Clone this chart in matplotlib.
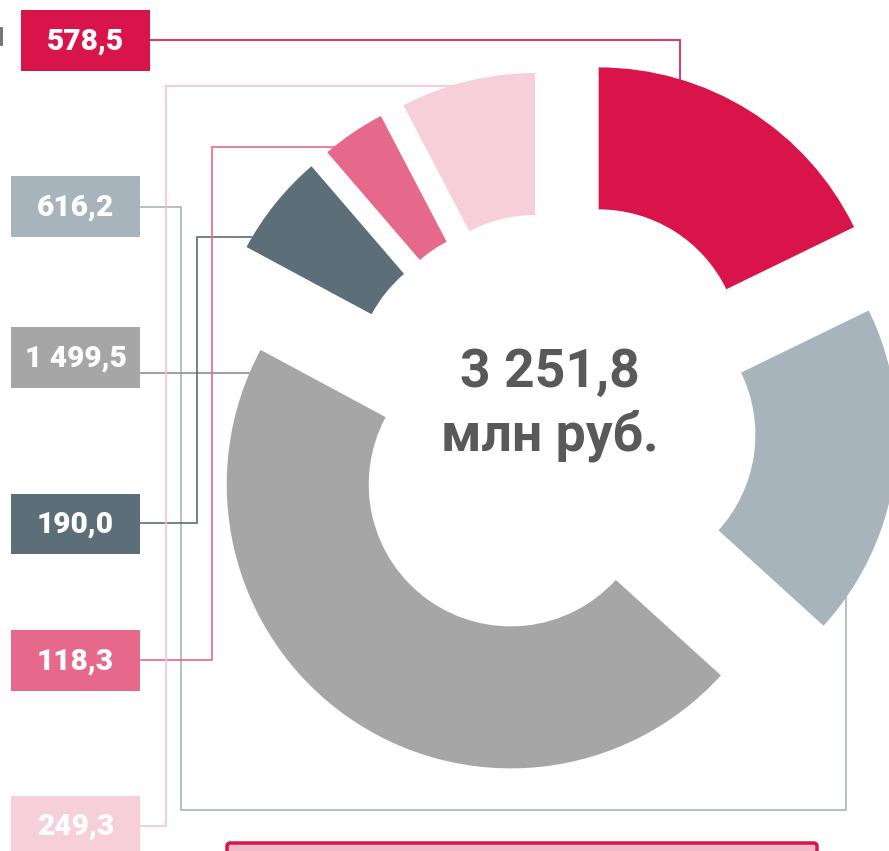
import matplotlib.pyplot as plt
from matplotlib.patches import Rectangle, FancyBboxPatch

# segments, clockwise from 12 o'clock
values = [578.5, 616.2, 1499.5, 190.0, 118.3, 249.3]
labels = ["578,5", "616,2", "1 499,5", "190,0", "118,3", "249,3"]
colors = ["#D9144A", "#A7B4BC", "#A6A6A6", "#5C6E78", "#E6698C", "#F6CFDB"]
total_text = ["3 251,8", "млн руб."]

# explode offsets (data units = pixels)
explode = [88, 62, 71.5, 71, 70.5, 71]

W, H = 889, 851
fig = plt.figure(figsize=(W / 100, H / 100), dpi=100)
ax = fig.add_axes([0, 0, 1, 1])


def Y(y):
    # pixel row -> data y
    return H - y


ax.pie(values, explode=explode, colors=colors, startangle=90, counterclock=False,
       radius=284, center=(552, Y(426)),
       wedgeprops=dict(width=142, linewidth=0), frame=False)

# label boxes: (left x, top y, bottom y) in pixels, connector path
boxes = [
    (21, 10, 71, [(150, 40), (680, 40), (680, 90)]),
    (11, 176, 237, [(140, 207), (181, 207), (181, 810), (846, 810), (846, 590)]),
    (11, 327, 388, [(140, 373), (255, 373)]),
    (11, 494, 554, [(140, 523), (197, 523), (197, 237), (260, 237)]),
    (11, 630, 691, [(140, 660), (212, 660), (212, 147), (340, 147)]),
    (11, 796, 856, [(140, 826), (166, 826), (166, 86), (458, 86)]),
]
line_colors = ["#D9144A", "#A7B4BC", "#8F8F8F", "#5C6E78", "#E6698C", "#F3C4D2"]

for (x0, y0, y1, path), lab, col, lcol in zip(boxes, labels, colors, line_colors):
    ax.add_patch(Rectangle((x0, Y(y1)), 129, y1 - y0, color=col, lw=0, zorder=3))
    ax.text(x0 + 64.5, Y((y0 + y1) / 2) - 1, lab, color="white", fontsize=21.5,
            fontweight=900, family="Roboto", ha="center", va="center", zorder=4)
    xs = [p[0] for p in path]
    ys = [Y(p[1]) for p in path]
    ax.plot(xs, ys, color=lcol, lw=1.2, zorder=0.5, solid_joinstyle="miter")

# small cut-off mark at the left edge
ax.plot([1, 1], [Y(28), Y(44)], color="#6b6b6b", lw=2)

# centre text
ax.text(550, Y(387), total_text[0], fontsize=38.5, fontweight="bold", family="Roboto",
        color="#595959", ha="center", va="baseline")
ax.text(550, Y(451), total_text[1], fontsize=38.5, fontweight="bold", family="Roboto",
        color="#595959", ha="center", va="baseline")

# box at the bottom, cut by the edge
ax.add_patch(FancyBboxPatch((227, Y(870)), 590, 27, boxstyle="round,pad=0,rounding_size=3",
                            facecolor="#F4B9CA", edgecolor="#D9144A", lw=2.5, zorder=3))

ax.set_xlim(0, W)
ax.set_ylim(0, H)
ax.axis("off")
fig.savefig("out.png", dpi=100, facecolor="white")
